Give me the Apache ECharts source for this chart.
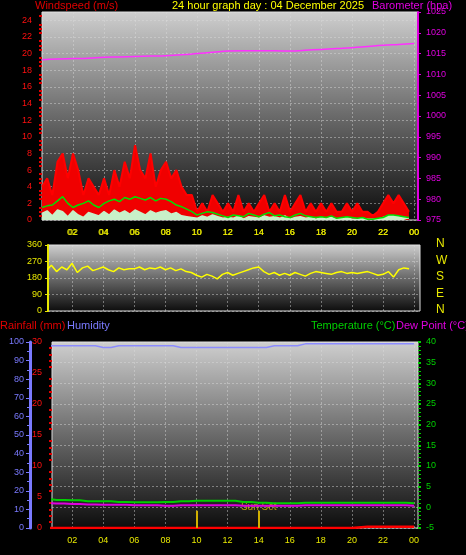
<!DOCTYPE html>
<html><head><meta charset="utf-8">
<script src="https://cdn.jsdelivr.net/npm/echarts@6/dist/echarts.min.js"></script>
<style>html,body{margin:0;background:#000}#main{width:466px;height:555px}</style>
</head><body><div id="main"></div>
<script>
// 20-minute samples, hour 0 .. 23.67
var windGust = [4,5,3,7,8,5, 8,6,3,5,4,3, 5,3,6,4,7,5, 9,6,5,8,4,6, 7,5,6,4,3,3,
    1,2,1,3,2,1, 2,1,3,1,2,1, 2,3,1,2,1,3, 1,2,3,1,2,1, 2,1,2,1,1,2, 1,2,1,1,0.5,1, 2,3,2,3,2,1];
var windAvg = [1.5,1.7,1.8,2.3,2.8,2.0, 1.5,1.8,2.0,2.3,1.8,1.5, 2.0,2.3,2.5,2.2,2.7,2.5,
    2.8,2.6,2.4,2.7,2.3,2.6, 2.5,2.2,1.8,1.6,1.3,1.0, 0.6,0.8,1.0,0.9,0.7,0.5,
    0.3,0.6,0.5,0.4,0.8,0.6, 0.4,0.7,0.9,0.5,0.6,0.4, 0.3,0.6,0.8,0.5,0.4,0.3,
    0.4,0.3,0.5,0.2,0.3,0.4, 0.3,0.2,0.3,0.1,0.1,0.2, 0.3,0.6,0.6,0.5,0.4,0.3];
var windSpeed = [0.8,1.1,0.5,1.2,1.0,0.4, 1.1,0.6,0.3,0.9,0.7,0.5, 1.0,0.6,1.2,0.8,1.1,0.7,
    1.2,0.9,0.6,1.1,0.8,1.0, 1.1,0.7,0.9,0.5,0.4,0.3, 0.2,0.5,0.3,0.6,0.4,0.2,
    0.3,0.2,0.5,0.1,0.4,0.3, 0.2,0.5,0.3,0.4,0.2,0.5, 0.1,0.3,0.4,0.2,0.3,0.1,
    0.3,0.2,0.3,0.1,0.2,0.3, 0.1,0.1,0.2,0.1,0.1,0.1, 0.3,0.5,0.5,0.4,0.3,0.2];
var windDir = [235,220,250,215,240,225, 260,210,235,245,220,230, 240,225,215,235,225,230,
    230,240,225,235,230,240, 225,235,220,230,215,210, 195,185,200,190,175,200,
    210,195,205,215,225,235, 240,215,200,210,195,205, 195,210,200,190,205,215,
    210,205,200,210,215,205, 210,205,210,215,205,195, 200,215,185,225,235,230];
// hourly samples, hour 0 .. 24
var baro = [1013.5,1013.7,1013.8,1013.9,1014.1,1014.2,1014.3,1014.4,1014.5,1014.7,1015,1015.3,
    1015.6,1015.7,1015.7,1015.7,1015.6,1015.8,1016,1016.2,1016.4,1016.7,1017,1017.2,1017.4];
var humidity = [98,98,98,98,97,98,98,98,98,97,97,97,97,97,97,98,98,99,99,99,99,99,99,99,99];
var temperature = [2.0,1.8,1.7,1.5,1.5,1.3,1.2,1.2,1.3,1.5,1.6,1.6,1.6,1.3,1.1,1.0,1.0,1.1,1.1,1.1,1.1,1.1,1.1,1.1,1.0];
var dewPoint = [1.0,0.9,0.8,0.7,0.6,0.6,0.5,0.5,0.4,0.5,0.5,0.5,0.5,0.4,0.4,0.4,0.4,0.5,0.5,0.5,0.5,0.5,0.5,0.5,0.4];
var rainfall = [0,0,0,0,0,0,0,0,0,0,0,0,0,0,0,0,0,0,0,0,0,0.2,0.2,0.2,0.2];
var hourTicks = [2,4,6,8,10,12,14,16,18,20,22,24];
var sunEvents = [10, 14];
var compass = ['N', 'W', 'S', 'E', 'N'];

function pairs(arr, step) {
    return arr.map(function(v, i) { return [i * step, v]; });
}
function bgGrad() {
    return new echarts.graphic.LinearGradient(0, 0, 0, 1, [
        {offset: 0, color: '#cfcfcf'}, {offset: 0.5, color: '#6a6a6a'}, {offset: 1, color: '#0c0c0c'}]);
}
var gridLine = {show: true, lineStyle: {color: 'rgba(220,220,220,0.45)', type: [2, 2], width: 1}};
function xAx(idx, min, max, pos) {
    return {
        type: 'value', gridIndex: idx, min: min, max: max, position: pos,
        axisLine: {show: false}, axisTick: {show: false, customValues: hourTicks},
        axisLabel: {color: '#e8e800', fontSize: 9, customValues: hourTicks,
            formatter: function(v) { var h = Math.round(v) % 24; return (h < 10 ? '0' : '') + h; }},
        splitLine: gridLine
    };
}
var plain = function(v) { return String(v); };
var font = 'Liberation Sans';
var chart = echarts.init(document.getElementById('main'));
chart.setOption({
    backgroundColor: '#000',
    animation: false,
    textStyle: {fontFamily: font},
    grid: [
        {left: 42, right: 48, top: 12, height: 208, show: true, backgroundColor: bgGrad(), borderColor: '#ddd', borderWidth: 1},
        {left: 48, right: 46, top: 245, height: 66, show: true, backgroundColor: bgGrad(), borderColor: '#ddd', borderWidth: 1},
        {left: 52, right: 48, top: 342, height: 186, show: true, backgroundColor: bgGrad(), borderColor: '#ddd', borderWidth: 1}
    ],
    xAxis: [xAx(0, 0, 24.25, 'bottom'), xAx(1, 0.45, 24.37, 'top'), xAx(2, 0.7, 24.25, 'bottom')],
    yAxis: [
        {type: 'value', gridIndex: 0, min: 0, max: 25, interval: 2,
            axisLine: {show: false}, axisTick: {show: false},
            minorTick: {show: true, splitNumber: 4, lineStyle: {color: '#e00000', width: 2}, length: 3},
            axisLabel: {color: '#ff1010', fontSize: 9, margin: 10, formatter: function(v) { return v > 24 ? '' : v; }},
            splitLine: gridLine},
        {type: 'value', gridIndex: 0, min: 975, max: 1025, interval: 5, position: 'right',
            axisLine: {show: true, lineStyle: {color: '#e000e0', width: 2}}, axisTick: {show: true, length: 3},
            axisLabel: {color: '#e000e0', fontSize: 9, formatter: plain}, splitLine: {show: false}},
        {type: 'value', gridIndex: 1, min: 0, max: 360, interval: 90,
            axisLine: {show: true, lineStyle: {color: '#e8e800', width: 2}}, axisTick: {show: true, length: 3},
            axisLabel: {color: '#e8e800', fontSize: 9, margin: 6}, splitLine: gridLine},
        {type: 'value', gridIndex: 2, min: 0, max: 30, interval: 5, position: 'left',
            axisLine: {show: false}, axisTick: {show: false},
            minorTick: {show: true, splitNumber: 5, lineStyle: {color: '#e00000', width: 2}, length: 3},
            axisLabel: {color: '#ff1010', fontSize: 9, margin: 10}, splitLine: {show: false}},
        {type: 'value', gridIndex: 2, min: 0, max: 100, interval: 10, position: 'left', offset: 22,
            axisLine: {show: true, lineStyle: {color: '#7a7aff', width: 3}}, axisTick: {show: true, length: 4},
            minorTick: {show: true, splitNumber: 2, lineStyle: {color: '#7a7aff'}},
            axisLabel: {color: '#7a7aff', fontSize: 9, margin: 6}, splitLine: {show: false}},
        {type: 'value', gridIndex: 2, min: -5, max: 40, interval: 5, position: 'right',
            axisLine: {show: false}, axisTick: {show: true, length: 3, lineStyle: {color: '#00d000', width: 2}},
            minorTick: {show: true, splitNumber: 5, lineStyle: {color: '#00d000'}},
            axisLabel: {color: '#00d000', fontSize: 9}, splitLine: gridLine}
    ],
    graphic: [
        {type: 'text', left: 35, top: 0, style: {text: 'Windspeed (m/s)', fill: '#e00000', font: '11px ' + font}},
        {type: 'text', left: 172, top: 0, style: {text: '24 hour graph day : 04 December 2025', fill: '#ffff00', font: '11px ' + font}},
        {type: 'text', left: 372, top: 0, style: {text: 'Barometer (hpa)', fill: '#e000e0', font: '11px ' + font}},
        {type: 'text', left: 0, top: 320, style: {text: 'Rainfall (mm)', fill: '#e00000', font: '11px ' + font}},
        {type: 'text', left: 67, top: 320, style: {text: 'Humidity', fill: '#7a7aff', font: '11px ' + font}},
        {type: 'text', left: 311, top: 320, style: {text: 'Temperature (°C)', fill: '#00d000', font: '11px ' + font}},
        {type: 'text', left: 396, top: 320, style: {text: 'Dew Point (°C)', fill: '#e000e0', font: '11px ' + font}}
    ].concat(compass.map(function(c, i) {
        return {type: 'text', left: 436, top: 238 + i * 16.5, style: {text: c, fill: '#e8e800', font: '12px ' + font}};
    })),
    series: [
        {type: 'line', xAxisIndex: 0, yAxisIndex: 0, data: pairs(windGust, 1 / 3), symbol: 'none',
            lineStyle: {color: '#ff0000', width: 2}, areaStyle: {color: '#f00000', opacity: 1}},
        {type: 'line', xAxisIndex: 0, yAxisIndex: 0, data: pairs(windSpeed, 1 / 3), symbol: 'none',
            lineStyle: {color: '#c8f0c8', width: 1.5}, areaStyle: {color: '#c8f0c8', opacity: 1}},
        {type: 'line', xAxisIndex: 0, yAxisIndex: 0, data: pairs(windAvg, 1 / 3), symbol: 'none',
            lineStyle: {color: '#00e000', width: 1.5}},
        {type: 'line', xAxisIndex: 0, yAxisIndex: 1, data: pairs(baro, 1), symbol: 'none', smooth: true,
            lineStyle: {color: '#ff30ff', width: 1.5}},
        {type: 'line', xAxisIndex: 1, yAxisIndex: 2, data: pairs(windDir, 1 / 3), symbol: 'none',
            lineStyle: {color: '#ffff00', width: 1.5}},
        {type: 'line', xAxisIndex: 2, yAxisIndex: 4, data: pairs(humidity, 1), symbol: 'none', step: 'middle',
            lineStyle: {color: '#8c8cff', width: 1.5}},
        {type: 'line', xAxisIndex: 2, yAxisIndex: 5, data: pairs(temperature, 1), symbol: 'none', step: 'middle',
            lineStyle: {color: '#00d000', width: 2}},
        {type: 'line', xAxisIndex: 2, yAxisIndex: 5, data: pairs(dewPoint, 1), symbol: 'none', step: 'middle',
            lineStyle: {color: '#e000e0', width: 2}},
        {type: 'line', xAxisIndex: 2, yAxisIndex: 3, data: pairs(rainfall, 1), symbol: 'none', step: 'start',
            lineStyle: {color: '#ff0000', width: 2.5},
            markLine: {symbol: 'none', silent: true, label: {show: false},
                lineStyle: {color: '#d0b000', width: 2, type: 'solid'},
                data: sunEvents.map(function(h) { return [{coord: [h, 0]}, {coord: [h, 2.8]}]; })}},
        {type: 'scatter', xAxisIndex: 2, yAxisIndex: 3, data: [[14, 3.4]], symbolSize: 1,
            itemStyle: {color: 'transparent'},
            label: {show: true, formatter: 'Sun Set', color: '#e0c000', fontSize: 10, position: 'inside'}}
    ]
});
</script>
</body></html>
